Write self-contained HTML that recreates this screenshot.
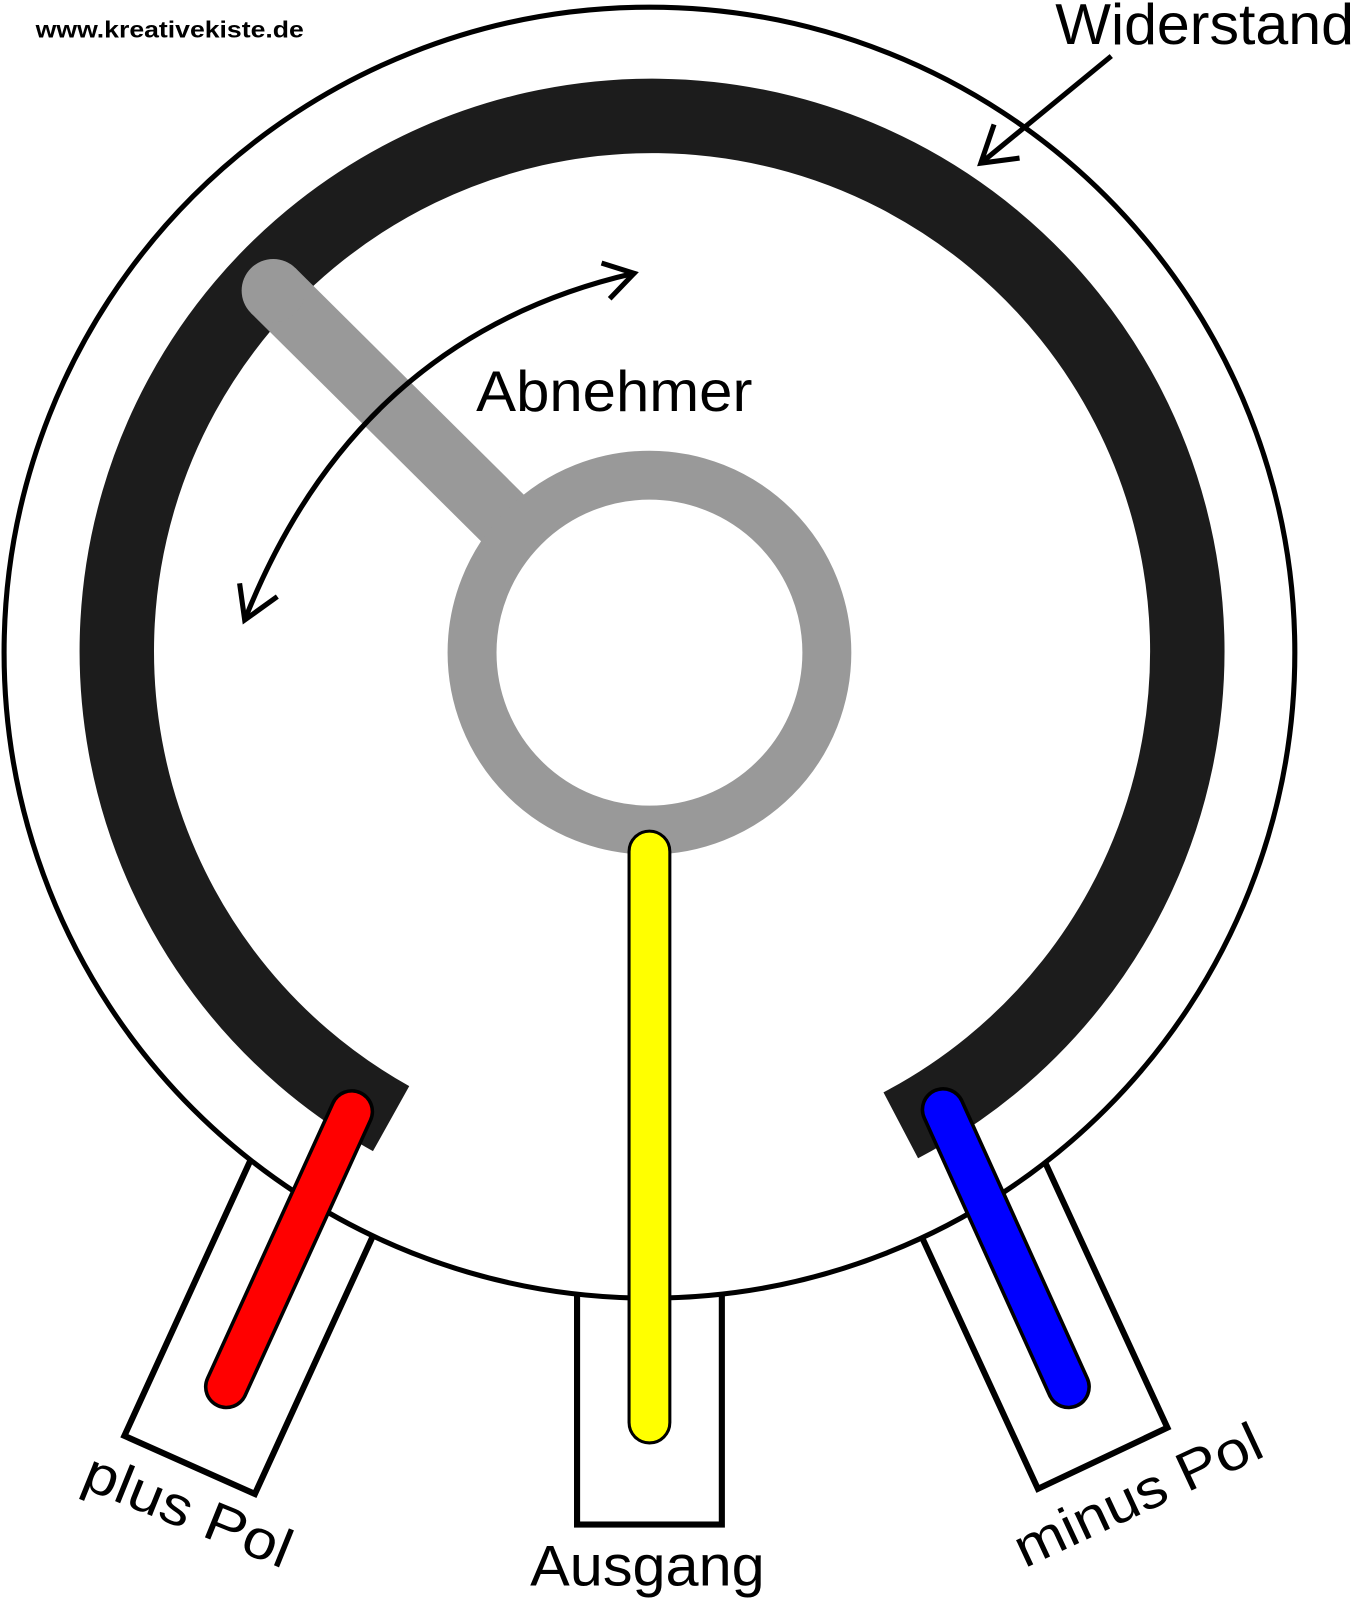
<!DOCTYPE html>
<html><head><style>html,body{margin:0;padding:0;background:#fff}svg{display:block}</style></head><body>
<svg width="1356" height="1600" viewBox="0 0 1330 1569" preserveAspectRatio="none" xmlns="http://www.w3.org/2000/svg" font-family="Liberation Sans, sans-serif">
<rect width="1330" height="1569" fill="#fff"/>
<polygon points="257,1113 385,1170 250,1465 122,1408" fill="#fff" stroke="#000" stroke-width="6"/>
<polygon points="888,1178 1015,1118 1145,1400 1018,1460" fill="#fff" stroke="#000" stroke-width="6"/>
<rect x="566" y="1220" width="142" height="275" fill="#fff" stroke="#000" stroke-width="6"/>
<circle cx="637" cy="640" r="633" fill="#fff" stroke="#000" stroke-width="5"/>
<path d="M 383.6 1097.0 A 525 525 0 1 1 883.5 1103.5" fill="none" stroke="#1c1c1c" stroke-width="73"/>
<line x1="268" y1="285" x2="505" y2="520" stroke="#999" stroke-width="62" stroke-linecap="butt"/>
<circle cx="268" cy="285" r="31" fill="#999"/>
<circle cx="637" cy="640" r="174" fill="none" stroke="#999" stroke-width="48"/>
<path d="M 240 608 Q 350 330 622 268" fill="none" stroke="#000" stroke-width="5"/>
<path d="M 590 258 L 622 268 L 598 293" fill="none" stroke="#000" stroke-width="5"/>
<path d="M 235 572 L 240 608 L 272 585" fill="none" stroke="#000" stroke-width="5"/>
<line x1="1090" y1="55" x2="962" y2="160" stroke="#000" stroke-width="5"/>
<path d="M 975 122 L 962 160 L 1000 155" fill="none" stroke="#000" stroke-width="5"/>
<line x1="345" y1="1090" x2="222" y2="1360" stroke="#000" stroke-width="44" stroke-linecap="round"/>
<line x1="345" y1="1090" x2="222" y2="1360" stroke="#f00" stroke-width="37" stroke-linecap="round"/>
<line x1="925" y1="1088" x2="1048" y2="1360" stroke="#000" stroke-width="44" stroke-linecap="round"/>
<line x1="925" y1="1088" x2="1048" y2="1360" stroke="#00f" stroke-width="37" stroke-linecap="round"/>
<rect x="617" y="815" width="40" height="600" rx="20" fill="#ff0" stroke="#000" stroke-width="3"/>
<text x="35" y="37" font-size="23" font-weight="bold" textLength="263" lengthAdjust="spacingAndGlyphs">www.kreativekiste.de</text>
<text x="1035" y="43" font-size="56" textLength="293" lengthAdjust="spacingAndGlyphs">Widerstand</text>
<text x="467" y="403" font-size="56" textLength="271" lengthAdjust="spacingAndGlyphs">Abnehmer</text>
<text x="520" y="1555" font-size="56" textLength="230" lengthAdjust="spacingAndGlyphs">Ausgang</text>
<text x="78" y="1458" font-size="54" textLength="215" lengthAdjust="spacingAndGlyphs" transform="rotate(22 78 1458)">plus Pol</text>
<text x="1005" y="1538" font-size="54" textLength="262" lengthAdjust="spacingAndGlyphs" transform="rotate(-25 1005 1538)">minus Pol</text>
</svg>
</body></html>
